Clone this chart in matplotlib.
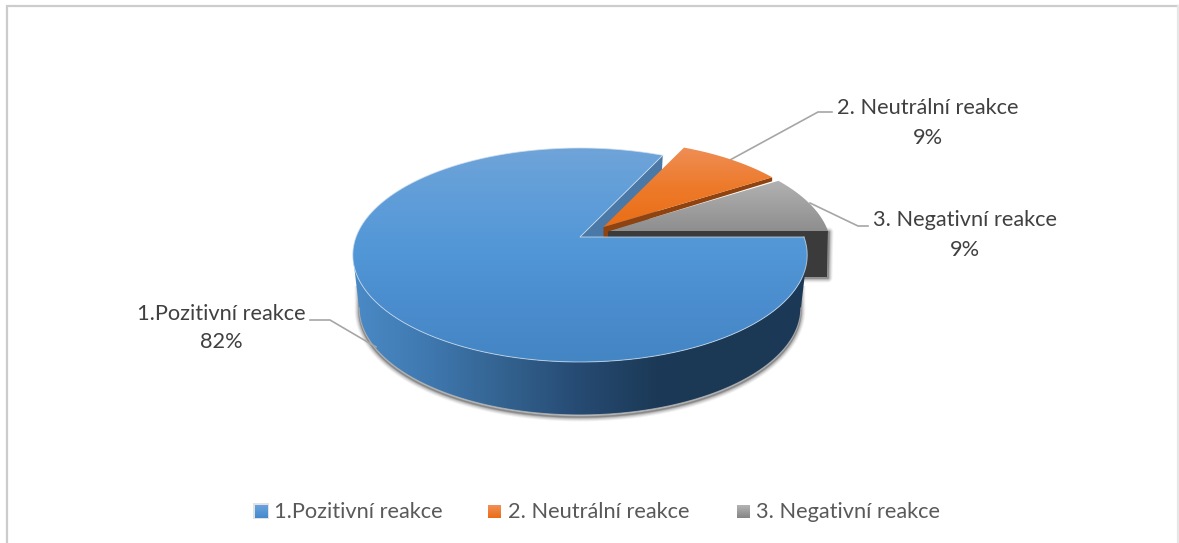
import numpy as np
import matplotlib
matplotlib.use("Agg")
import matplotlib.pyplot as plt
from matplotlib.patches import Polygon, Rectangle
from matplotlib.colors import LinearSegmentedColormap as LSC

categories = ["1.Pozitivní reakce", "2. Neutrální reakce", "3. Negativní reakce"]
values = [82, 9, 9]
percent_labels = ["82%", "9%", "9%"]

plt.rcParams["font.family"] = ["Lato", "DejaVu Sans"]
W, H = 1179, 543
fig = plt.figure(figsize=(W / 100, H / 100), dpi=100)
ax = fig.add_axes([0, 0, 1, 1])
ax.set_axis_off()

K, A, B = 0.168, 104.0, 224.0   # perspective of the tilted disc
DEPTH = 53
LOWER_SCALE = 0.972             # the lower rim is a little narrower
SHADOW = [(9, 0.05), (7, 0.07), (5, 0.10), (3, 0.14), (1.5, 0.2)]


def proj(theta_deg, cx, cy, scale=1.0):
    t = np.radians(theta_deg)
    u, v = np.cos(t), np.sin(t)
    w = 1 + K * v
    return np.column_stack([cx + B * scale * u / w, cy - A * scale * v / w])


def arc(a0, a1, cx, cy, scale=1.0, n=240):
    return proj(np.linspace(a0, a1, n), cx, cy, scale)


def grad_fill(pts, colors, horizontal=False, z=1):
    pts = np.asarray(pts)
    poly = Polygon(pts, closed=True, fc="none", ec="none", transform=ax.transData)
    ax.add_patch(poly)
    x0, x1 = pts[:, 0].min(), pts[:, 0].max()
    y0, y1 = pts[:, 1].min(), pts[:, 1].max()
    cmap = LSC.from_list("g", colors)
    g = np.linspace(0, 1, 256)
    g = g[None, :] if horizontal else g[:, None]
    if horizontal:
        ext = (x0, x1, y1 + 1, y0 - 1)
    else:
        ext = (x0 - 1, x1 + 1, y1, y0)
    im = ax.imshow(g, cmap=cmap, extent=ext, aspect="auto", origin="upper",
                   zorder=z, interpolation="bilinear")
    im.set_clip_path(poly)


def soft_shadow(pts, z, offset=(0, 2), closed=True):
    pts = np.asarray(pts) + np.array(offset)
    for lw, al in SHADOW:
        if closed:
            ax.add_patch(Polygon(pts, closed=True, fc="none", ec="black", lw=lw * 0.72,
                                 alpha=al, zorder=z, joinstyle="round"))
        else:
            ax.plot(*pts.T, color="black", lw=lw * 0.72, alpha=al, zorder=z,
                    solid_joinstyle="round", solid_capstyle="butt")


# slice angles, clockwise from the east
ang = 360 * np.cumsum([0] + values) / sum(values)
blue_end = -ang[1]
or0, or1 = -ang[1], -ang[2]
gr0, gr1 = -ang[2], -ang[3]

# --- grey slice
gc = (608, 231)
g_arc = arc(gr0 + 360, gr1 + 360, *gc, 0.982)
g_tip = g_arc[-1]
g_wall = [gc, g_tip, (g_tip[0] - 1, g_tip[1] + 46), (gc[0], gc[1] + 46)]
soft_shadow(g_wall, 2.0, (1, 1))
ax.add_patch(Polygon(g_wall, closed=True, fc="#3b3b3b", ec="none", zorder=2.1))
grad_fill(np.vstack([[gc], g_arc]), ["#b2b2b2", "#8e8e8e"], z=2.2)

# --- blue inner radial wall
bc = (580, 237)
tip = proj(np.array([blue_end + 360]), *bc)[0]
inner = [bc, tip, (tip[0] - 3, tip[1] + DEPTH), (bc[0], bc[1] + DEPTH)]
ax.add_patch(Polygon(inner, closed=True, fc="#4a79a8", ec="none", zorder=1.5))

# --- orange slice
oc = (603.5, 227)
o_arc = arc(or0 + 360, or1 + 360, *oc, 0.972)
o_end = o_arc[-1]
o_wall = [oc, o_end, (o_end[0], o_end[1] + 4), (gc[0], gc[1] + 0.5),
          (gc[0], gc[1] + 6), (oc[0], oc[1] + 10)]
ax.add_patch(Polygon(o_wall, closed=True, fc="#8f4310", ec="none", zorder=3))
grad_fill(np.vstack([[oc], o_arc]), ["#ef8e56", "#ed7a2a", "#ea6e16"], z=3.1)

# --- blue main slice
top_arc = arc(0, blue_end, *bc)
lo = 180 + np.degrees(np.arcsin(K))
hi = 360 - np.degrees(np.arcsin(K))
front = arc(lo, hi, *bc)
rim = front + np.array([0, DEPTH])
rim[:, 0] = bc[0] + (rim[:, 0] - bc[0]) * LOWER_SCALE
wall = np.vstack([front, rim[::-1]])
shadow_path = np.vstack([rim[0] + (0, -24), rim, rim[-1] + (0, -24)])
soft_shadow(shadow_path, 4, closed=False)
grad_fill(wall, ["#4a8ac6", "#3f78af", "#33628f", "#264a72", "#1c3a57", "#1b3954", "#1c3a58"],
          horizontal=True, z=4.2)
ax.plot(*rim.T, color="#b5b5b5", lw=0.8, alpha=0.8, zorder=4.3)
blue_top = np.vstack([[bc], top_arc])
grad_fill(blue_top, ["#6fa4d8", "#5f9dd9", "#5196d6", "#4a8ccd", "#4486c4"], z=5)
ax.plot(*np.vstack([tip, bc, top_arc[0]]).T, color="#dce9f5", lw=0.6, alpha=0.8, zorder=5.2)
ax.plot(*top_arc.T, color="#d5e3f0", lw=0.7, alpha=0.7, zorder=5.2)

# --- chart frame
frame = "#cccccc"
ax.plot([7, 7, 1178], [543, 6, 6], color=frame, lw=1.6, zorder=0.5, solid_joinstyle="miter")
ax.plot([1178, 1178], [6, 543], color="#e6e6e6", lw=1.6, zorder=0.5)

# --- leader lines
lead = "#a6a6a6"
ax.plot([310, 330, 376], [320, 320, 347], color=lead, lw=1.2, zorder=4.5)
ax.plot([730, 818, 832], [160, 112, 112], color=lead, lw=1.2, zorder=1.2)
ax.plot([810, 858, 868], [203, 226, 226], color=lead, lw=1.2, zorder=1.2)

# --- data labels
label_pos = [(221, 313.5, 341.5), (928, 107.5, 137.5), (965, 220.5, 250.5)]
LABEL_FS = 15.7
for cat, pct, (x, y1, y2) in zip(categories, percent_labels, label_pos):
    ax.text(x, y1, cat, ha="center", va="center", fontsize=LABEL_FS, color="#404040", zorder=6)
    ax.text(x, y2, pct, ha="center", va="center", fontsize=LABEL_FS, color="#404040", zorder=6)

# --- legend
legend_x = [(255, 274), (488, 508), (737, 756)]
legend_cols = [["#69a3dd", "#4488cc"], ["#f19058", "#ea6c14"], ["#b4b4b4", "#858585"]]
ax.add_patch(Rectangle((253, 503), 16, 16, fc="#e2e2e2", ec="none", zorder=6))
for cat, (mx, tx), cols in zip(categories, legend_x, legend_cols):
    s = np.array([(mx, 505), (mx + 13, 505), (mx + 13, 518), (mx, 518)], float)
    grad_fill(s, cols, z=7)
    ax.text(tx, 512.5, cat, ha="left", va="center", fontsize=LABEL_FS, color="#595959", zorder=7)

ax.set_xlim(0, W)
ax.set_ylim(H, 0)
fig.savefig("out.png", dpi=100)
